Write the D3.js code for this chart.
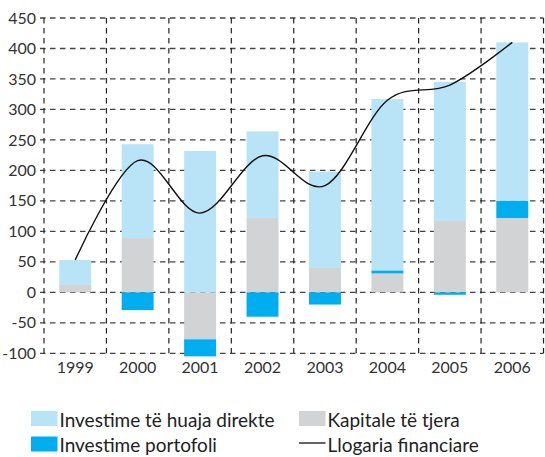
<!DOCTYPE html>
<html><head><meta charset="utf-8">
<script src="https://cdn.jsdelivr.net/npm/d3@7"></script>
<style>body{margin:0;background:#fff;}svg{display:block;font-family:Lato,"Open Sans",sans-serif;}</style>
</head><body>
<svg id="c" width="545" height="457"></svg>
<script>
const years = ["1999","2000","2001","2002","2003","2004","2005","2006"];
const kapitale = [12, 89, -77, 122, 40, 31, 117, 122];
const portofoli = [0, -29, -28, -40, -20, 5, -4, 28];
const fdi = [41, 154, 232, 142, 158, 281, 228, 260];
const llogaria = [53, 216, 130, 224, 175, 315, 340, 410];
const yTicks = [-100,-50,0,50,100,150,200,250,300,350,400,450];
const seriesNames = ["Investime të huaja direkte","Kapitale të tjera","Investime portofoli","Llogaria financiare"];
const colors = {fdi:"#b9e4f7", kap:"#d1d3d4", port:"#00aeef"};

const svg = d3.select("#c");
const x = d3.scaleBand().domain(years).range([44, 543.5]).padding(0);
const y = d3.scaleLinear().domain([-100, 450]).range([353.3, 18]);

// grid
const grid = svg.append("g");
grid.selectAll("line.h").data(yTicks).join("line")
  .attr("x1", 40).attr("x2", 543.5)
  .attr("y1", d => y(d)).attr("y2", d => y(d))
  .attr("stroke", "#444").attr("stroke-width", 1.3).attr("stroke-dasharray", "5.5,4.5");
const bounds = years.map(d => x(d)).concat([x(years[7]) + x.bandwidth()]);
grid.selectAll("line.v").data(bounds).join("line")
  .attr("x1", d => d).attr("x2", d => d)
  .attr("y1", y(450)).attr("y2", y(-100))
  .attr("stroke", "#222").attr("stroke-width", 1.2).attr("stroke-dasharray", "5.5,4.5");

// y labels
svg.append("g").selectAll("text").data(yTicks).join("text")
  .attr("x", 36).attr("y", d => y(d)).attr("dy", "0.35em")
  .attr("text-anchor", "end").attr("font-size", 16).attr("fill", "#333")
  .text(d => d);
// x labels
svg.append("g").selectAll("text").data(years).join("text")
  .attr("x", d => x(d) + x.bandwidth()/2).attr("y", 373)
  .attr("text-anchor", "middle").attr("font-size", 16).attr("fill", "#333")
  .text(d => d);

// stacked bars
const rows = years.map((yr, i) => ({year: yr, kap: kapitale[i], port: portofoli[i], fdi: fdi[i]}));
const stack = d3.stack().keys(["kap","port","fdi"]).offset(d3.stackOffsetDiverging).order(d3.stackOrderNone);
const layers = stack(rows);
const bw = x.bandwidth() * 0.512;
svg.append("g").selectAll("g").data(layers).join("g")
  .attr("fill", d => colors[d.key])
  .selectAll("rect").data(d => d).join("rect")
  .attr("x", d => x(d.data.year) + (x.bandwidth() - bw)/2)
  .attr("width", bw)
  .attr("y", d => y(Math.max(d[0], d[1])))
  .attr("height", d => Math.abs(y(d[0]) - y(d[1])));

// line
const line = d3.line().x((d,i) => x(years[i]) + x.bandwidth()/2).y(d => y(d)).curve(d3.curveCardinal.tension(0));
svg.append("path").datum(llogaria).attr("d", line)
  .attr("fill", "none").attr("stroke", "#111").attr("stroke-width", 1.4);

// legend
const leg = svg.append("g").attr("font-size", 19).attr("fill", "#222");
const items = [
  {name: seriesNames[0], type: "rect", color: colors.fdi, x: 31, y: 411},
  {name: seriesNames[1], type: "rect", color: colors.kap, x: 299, y: 411},
  {name: seriesNames[2], type: "rect", color: colors.port, x: 31, y: 436.5},
  {name: seriesNames[3], type: "line", color: "#111", x: 299, y: 436.5}
];
items.forEach(it => {
  if (it.type === "rect") {
    leg.append("rect").attr("x", it.x).attr("y", it.y).attr("width", 26.5).attr("height", 15).attr("fill", it.color);
  } else {
    leg.append("line").attr("x1", it.x).attr("x2", it.x + 26.5).attr("y1", it.y + 6.5).attr("y2", it.y + 6.5)
      .attr("stroke", it.color).attr("stroke-width", 1.3);
  }
  leg.append("text").attr("x", it.x + 28.5).attr("y", it.y + 15.5).text(it.name);
});
</script>
</body></html>
